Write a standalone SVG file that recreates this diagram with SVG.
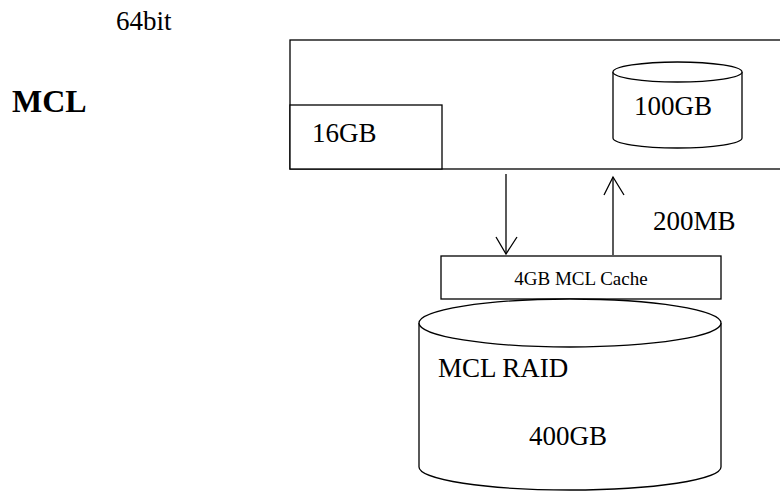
<svg xmlns="http://www.w3.org/2000/svg" width="780" height="491" viewBox="0 0 780 491">
<style>
.s{fill:#fff;stroke:#000;stroke-width:1.3}
.l{fill:none;stroke:#000;stroke-width:1.3}
.t{font-family:"Liberation Serif",serif;font-size:27px;fill:#000}
.sm{font-family:"Liberation Serif",serif;font-size:19px;fill:#000}
.b{font-family:"Liberation Serif",serif;font-size:32px;font-weight:bold;fill:#000}
</style>
<rect width="780" height="491" fill="#fff"/>
<g id="title64"><text class="t" x="116" y="30">64bit</text></g>
<g id="titleMCL"><text class="b" x="12" y="112">MCL</text></g>
<g id="host">
<rect class="s" x="290" y="40" width="500" height="129"/>
</g>
<g id="mem16">
<rect class="s" x="290" y="105" width="152" height="64"/>
<text class="t" x="312" y="142">16GB</text>
</g>
<g id="disk100">
<path class="s" d="M613,72 L613,138 A64.5,10 0 0 0 742,138 L742,72"/>
<ellipse class="s" cx="677.5" cy="72" rx="64.5" ry="10"/>
<text class="t" x="634" y="115">100GB</text>
</g>
<g id="cache">
<rect class="s" x="441" y="256" width="280" height="43"/>
<text class="sm" x="581" y="285" text-anchor="middle">4GB MCL Cache</text>
</g>
<g id="raid">
<path class="s" d="M419,323 L419,467 A151,23 0 0 0 721,467 L721,323"/>
<ellipse class="s" cx="570" cy="323" rx="151" ry="24"/>
<text class="t" x="438" y="377">MCL RAID</text>
<text class="t" x="529" y="445">400GB</text>
</g>
<g id="connectors">
<line class="l" x1="506" y1="174" x2="506" y2="254"/>
<polyline class="l" points="496,237 506,254 517,237"/>
<line class="l" x1="613" y1="255" x2="613" y2="177"/>
<polyline class="l" points="604,195 613,177 624,195"/>
<text class="t" x="653" y="230">200MB</text>
</g>
</svg>
